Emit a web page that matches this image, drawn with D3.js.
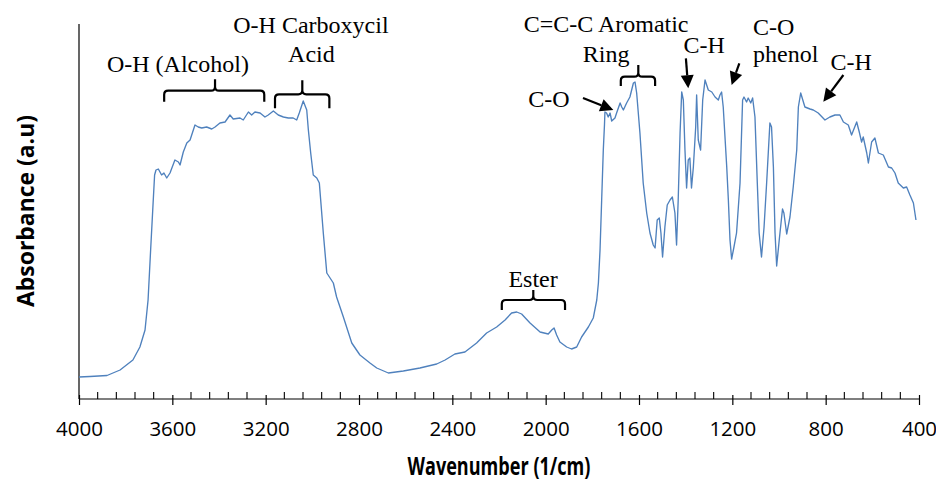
<!DOCTYPE html>
<html>
<head>
<meta charset="utf-8">
<script src="https://cdn.jsdelivr.net/npm/d3@7"></script>
<style>
  html, body { margin: 0; padding: 0; background: #fff; }
  svg { display: block; }
</style>
</head>
<body>
<svg id="chart" width="936" height="484"></svg>
<script>
// ---------- data ----------
const wavenumber = [
  4000,3953,3880,3824,3769,3739,3717,3704,3693,3684,3676,3670,3660,3646,3636,3624,3610,3589,3574,3567,
  3553,3538,3524,3503,3489,3474,3453,3431,3417,3396,3374,3353,3339,3310,3296,3274,3260,3246,3224,3203,
  3189,3167,3146,3124,3103,3082,3067,3056,3039,3024,3017,3007,2996,2981,2970,2953,2938,2924,2910,2896,
  2867,2831,2796,2753,2724,2674,2610,2539,2467,2431,2389,2346,2296,2253,2210,2174,2146,2124,2103,2067,
  2024,1989,1974,1964,1953,1939,1910,1889,1867,1846,1817,1796,1781,1774,1767,1760,1753,1748,1746,1739,
  1732,1724,1717,1703,1696,1681,1674,1667,1653,1639,1624,1617,1610,1596,1582,1567,1553,1539,1531,1522,
  1513,1506,1499,1489,1479,1467,1457,1446,1439,1432,1424,1417,1410,1403,1396,1389,1382,1375,1367,1357,
  1353,1346,1336,1327,1317,1303,1288,1274,1260,1253,1246,1239,1224,1217,1210,1203,1193,1182,1167,1156,
  1150,1139,1132,1121,1113,1103,1093,1085,1075,1064,1053,1039,1032,1024,1017,1010,999,985,979,967,
  953,939,924,917,907,889,867,853,832,803,782,760,739,724,703,689,667,656,646,639,
  624,617,603,589,574,553,531,517,503,489,467,453,439,424,413
];
const absorbance = [
  0.22,0.225,0.235,0.29,0.39,0.52,0.69,0.99,1.49,1.89,2.24,2.29,2.30,2.24,2.26,2.21,2.26,2.39,2.37,2.34,
  2.47,2.56,2.59,2.74,2.72,2.71,2.72,2.70,2.72,2.76,2.77,2.84,2.80,2.81,2.79,2.87,2.84,2.87,2.86,2.82,
  2.84,2.88,2.84,2.82,2.81,2.81,2.79,2.86,2.98,2.89,2.69,2.46,2.24,2.21,2.16,1.66,1.26,1.21,1.16,1.02,
  0.82,0.56,0.44,0.36,0.31,0.26,0.28,0.31,0.35,0.39,0.45,0.47,0.56,0.66,0.72,0.79,0.86,0.87,0.85,0.76,
  0.67,0.65,0.69,0.71,0.64,0.57,0.52,0.50,0.52,0.62,0.72,0.81,0.99,1.16,1.49,1.99,2.49,2.74,2.87,2.86,
  2.82,2.86,2.78,2.81,2.86,2.96,2.92,2.89,2.96,3.02,3.16,3.17,3.06,2.66,2.16,1.86,1.66,1.54,1.51,1.79,
  1.81,1.66,1.42,1.72,1.94,1.99,2.02,1.86,1.54,1.99,2.66,3.07,2.99,2.49,2.11,2.39,2.41,2.11,2.32,2.72,
  3.04,2.59,2.49,2.99,3.19,3.09,3.07,3.02,2.99,3.04,3.07,2.92,2.32,1.99,1.59,1.40,1.52,1.66,2.16,2.99,
  3.02,2.97,3.01,2.96,3.01,2.82,2.16,1.66,1.42,1.72,2.16,2.76,2.72,2.32,1.66,1.33,1.59,1.90,1.86,1.65,
  1.82,2.12,2.49,2.92,3.06,2.92,2.90,2.89,2.86,2.79,2.82,2.84,2.84,2.77,2.74,2.64,2.77,2.67,2.57,2.62,
  2.46,2.36,2.57,2.61,2.46,2.44,2.32,2.31,2.26,2.16,2.11,2.12,2.04,1.96,1.79
];
const xMajorTicks = [4000,3600,3200,2800,2400,2000,1600,1200,800,400];
const xMinorStep = 80;
const xTitle = "Wavenumber (1/cm)";
const yTitle = "Absorbance (a.u)";

// annotation texts
const labelTexts = ["O-H (Alcohol)","O-H Carboxycil","Acid","C=C-C Aromatic","Ring","C-O","C-H","C-O","phenol","C-H","Ester"];
const labelWn    = [3576, 3006, 3004, 1741, 1741, 1986, 1321, 1111, 1111, 691, 2054];
const labelY     = [72, 33, 62, 32, 62, 107, 53, 35, 62, 70, 287];
const labelAnchor= ["middle","middle","middle","middle","middle","middle","middle","start","start","middle","middle"];

// brackets: from, centre, to (wavenumber)
const bracketFrom = [3635, 3160, 1678, 2188];
const bracketMid  = [3417, 3043, 1603, 2053];
const bracketTo   = [3206, 2927, 1531, 1917];
const bracketY    = [90.7, 94.3, 76.7, 300];
const bracketDown = [11, 14, 9.3, 10];
const bracketUp   = [11.4, 14, 11.7, 10];

// arrows: tail -> tip (wavenumber, px)
const arrowTailWn = [1840, 1399, 1170, 724];
const arrowTailY  = [98, 58.3, 63.3, 75];
const arrowTipWn  = [1710, 1389, 1203, 810];
const arrowTipY   = [110, 88.3, 85, 101.7];

// ---------- drawing ----------
const svg = d3.select("#chart");
const x = d3.scaleLinear().domain([4000, 400]).range([79, 919]);
const y = d3.scaleLinear().domain([0, 3.75]).range([399, 24]);
const axisY = y(0);

// y axis line
svg.append("line").attr("x1", x(4000)).attr("x2", x(4000))
  .attr("y1", y(3.75)).attr("y2", axisY)
  .attr("stroke", "#000").attr("stroke-width", 1.2);

// x axis
const xAxis = d3.axisBottom(x).tickValues(xMajorTicks).tickSize(6).tickPadding(16)
  .tickFormat(d3.format("d"));
const gx = svg.append("g").attr("transform", `translate(0,${axisY})`).call(xAxis);
gx.select(".domain").remove();
gx.selectAll(".tick line").attr("y1", -4).attr("y2", 6).attr("stroke", "#000").attr("stroke-width", 1.2);
gx.selectAll(".tick text")
  .attr("font-family", "'Open Sans', 'Liberation Sans', sans-serif")
  .attr("font-size", 20.5).attr("fill", "#000");
svg.append("line").attr("x1", x(4000)).attr("x2", x(400))
  .attr("y1", axisY).attr("y2", axisY).attr("stroke", "#000").attr("stroke-width", 1.2);
const minor = d3.range(4000, 399, -xMinorStep).filter(v => xMajorTicks.indexOf(v) < 0);
svg.append("g").selectAll("line").data(minor).join("line")
  .attr("x1", d => x(d)).attr("x2", d => x(d))
  .attr("y1", axisY - 7).attr("y2", axisY)
  .attr("stroke", "#000").attr("stroke-width", 1.1);

// axis titles
svg.append("text").text(xTitle)
  .attr("x", 499).attr("y", 475).attr("text-anchor", "middle")
  .attr("font-family", "'Liberation Sans Narrow', 'Open Sans', sans-serif")
  .attr("font-weight", "bold").attr("font-size", 25)
  .attr("textLength", 183).attr("lengthAdjust", "spacingAndGlyphs");
svg.append("text").text(yTitle)
  .attr("transform", "translate(34,211) rotate(-90)")
  .attr("text-anchor", "middle")
  .attr("font-family", "'Liberation Sans Narrow', 'Open Sans', sans-serif")
  .attr("font-weight", "bold").attr("font-size", 24)
  .attr("textLength", 192).attr("lengthAdjust", "spacingAndGlyphs");

// spectrum
const pts = wavenumber.map((w, i) => [w, absorbance[i]]);
svg.append("path").datum(pts)
  .attr("fill", "none").attr("stroke", "#4F81BD").attr("stroke-width", 1.35)
  .attr("stroke-linejoin", "round")
  .attr("d", d3.line().x(d => x(d[0])).y(d => y(d[1])));

// brackets
bracketFrom.forEach((f, i) => {
  const x1 = x(f), xc = x(bracketMid[i]), x2 = x(bracketTo[i]);
  const h = bracketY[i], dn = bracketDown[i], up = bracketUp[i], r = 4;
  const p = `M${x1},${h + dn} L${x1},${h + r} Q${x1},${h} ${x1 + r},${h} L${xc - r},${h} Q${xc},${h} ${xc},${h - r} L${xc},${h - up}`
    + ` M${xc},${h - r} Q${xc},${h} ${xc + r},${h} L${x2 - r},${h} Q${x2},${h} ${x2},${h + r} L${x2},${h + dn}`;
  svg.append("path").attr("d", p).attr("fill", "none").attr("stroke", "#000").attr("stroke-width", 2.2);
});

// arrows
arrowTailWn.forEach((t, i) => {
  const x0 = x(t), y0 = arrowTailY[i], x1 = x(arrowTipWn[i]), y1 = arrowTipY[i];
  const dx = x1 - x0, dy = y1 - y0, len = Math.hypot(dx, dy);
  const ux = dx / len, uy = dy / len, hl = 13, hw = 6.5;
  const bx = x1 - ux * hl, by = y1 - uy * hl;
  svg.append("line").attr("x1", x0).attr("y1", y0).attr("x2", bx).attr("y2", by)
    .attr("stroke", "#000").attr("stroke-width", 2.2);
  svg.append("polygon")
    .attr("points", `${x1},${y1} ${bx - uy * hw},${by + ux * hw} ${bx + uy * hw},${by - ux * hw}`)
    .attr("fill", "#000");
});

// labels
labelTexts.forEach((t, i) => {
  svg.append("text").text(t)
    .attr("x", x(labelWn[i])).attr("y", labelY[i])
    .attr("text-anchor", labelAnchor[i])
    .attr("font-family", "'Liberation Serif', 'Times New Roman', serif")
    .attr("font-size", 24).attr("fill", "#000");
});
</script>
</body>
</html>
